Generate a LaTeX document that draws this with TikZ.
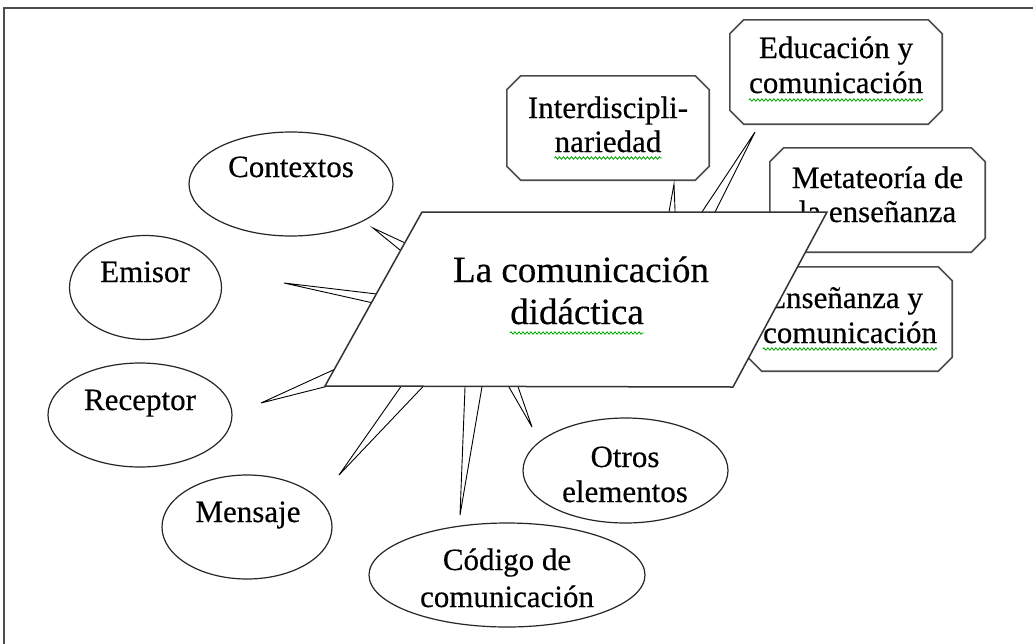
\documentclass[tikz,border=0pt]{standalone}
\usepackage{fontspec}
\setmainfont{Liberation Serif}[FakeBold=0.4]
\usetikzlibrary{shapes.geometric,decorations.pathmorphing}
\tikzset{
 ell/.style={ellipse, draw=black!85, line width=1.2pt, fill=white, inner sep=0pt},
 lab/.style={inner sep=0pt, anchor=base, font=\fontsize{31}{36}\selectfont},
 big/.style={inner sep=0pt, anchor=base, font=\fontsize{37}{42}\selectfont},
 boxarea/.style={inner sep=0pt, draw=none},
 boxline/.style={draw=black!70, line width=1.6pt, fill=white},
 spike/.style={draw=black, line width=0.9pt, fill=white, line join=miter},
 wavy/.style={draw=green!65!black, line width=0.8pt, decorate, decoration={zigzag, segment length=4pt, amplitude=1.2pt}},
 frameline/.style={draw=black!70, line width=1.5pt},
 para/.style={draw=black!80, line width=1.5pt, fill=white, line join=miter}
}
\newcommand\chambox[1]{%
 \filldraw[boxline] ([xshift=14pt]#1.north west) -- ([xshift=-14pt]#1.north east) -- ([yshift=-14pt]#1.north east) -- ([yshift=14pt]#1.south east) -- ([xshift=-14pt]#1.south east) -- ([xshift=14pt]#1.south west) -- ([yshift=14pt]#1.south west) -- ([yshift=-14pt]#1.north west) -- cycle;}
\begin{document}
\begin{tikzpicture}[x=1pt,y=-1pt]
\useasboundingbox (0,0) rectangle (1033,643);
\fill[white] (0,0) rectangle (1033,643);
% frame
\coordinate (fTL) at (4,8);
\coordinate (fBL) at (4,650);
\coordinate (fTR) at (1040,8);
\draw[frameline] (fBL) -- (fTL) -- (fTR);

% ellipses
\node[ell, minimum width=204pt, minimum height=104pt] (cont) at (291,184) {};
\node[lab] (tcont) at (291,177) {Contextos};
\node[ell, minimum width=152pt, minimum height=104pt] (emis) at (145.5,287.5) {};
\node[lab] (temis) at (145,282) {Emisor};
\node[ell, minimum width=184pt, minimum height=104pt] (rece) at (140,415) {};
\node[lab] (trece) at (140,410) {Receptor};
\node[ell, minimum width=170pt, minimum height=104pt] (mens) at (247,527) {};
\node[lab] (tmens) at (248,522) {Mensaje};
\node[ell, minimum width=276pt, minimum height=104pt] (codi) at (507,575) {};
\node[lab] (tcodi1) at (507,570) {Código de};
\node[lab] (tcodi2) at (507,607) {comunicación};
\node[ell, minimum width=205pt, minimum height=105pt] (otro) at (625.5,470.5) {};
\node[lab] (totro1) at (625,467) {Otros};
\node[lab] (totro2) at (625,502) {elementos};

% callout boxes
\node[boxarea, minimum width=202pt, minimum height=104pt] (interd) at (608,128) {};
\chambox{interd}
\node[lab] (tinterd1) at (608,118) {Interdiscipli-};
\node[lab] (tinterd2) at (608,152) {nariedad};
\draw[wavy] ([yshift=-6pt]tinterd2.base west) -- ([yshift=-6pt]tinterd2.base east);

\node[boxarea, minimum width=212pt, minimum height=104pt] (educ) at (836,72) {};
\chambox{educ}
\node[lab] (teduc1) at (836,58) {Educación y};
\node[lab] (teduc2) at (836,93) {comunicación};
\draw[wavy] ([yshift=-7pt]teduc2.base west) -- ([yshift=-7pt]teduc2.base east);

\node[boxarea, minimum width=215pt, minimum height=104pt] (meta) at (877.5,200) {};
\chambox{meta}
\node[lab] (tmeta1) at (877.5,188) {Metateoría de};
\node[lab] (tmeta2) at (877.5,222) {la enseñanza};

\node[boxarea, minimum width=204pt, minimum height=104pt] (ense) at (850,319) {};
\chambox{ense}
\node[lab] (tense1) at (845,308) {Enseñanza y};
\node[lab] (tense2) at (850,343) {comunicación};
\draw[wavy] ([yshift=-6pt]tense2.base west) -- ([yshift=-6pt]tense2.base east);

% spikes
\coordinate (sCont) at (373,228); \coordinate (sCont1) at (433,256); \coordinate (sCont2) at (427,272);
\draw[spike] (sCont) -- (sCont1) -- (sCont2) -- cycle;
\coordinate (sEmis) at (284,283); \coordinate (sEmis1) at (402,297); \coordinate (sEmis2) at (400,309);
\draw[spike] (sEmis) -- (sEmis1) -- (sEmis2) -- cycle;
\coordinate (sRece) at (261,403); \coordinate (sRece1) at (355,360); \coordinate (sRece2) at (344,382);
\draw[spike] (sRece) -- (sRece1) -- (sRece2) -- cycle;
\coordinate (sMens) at (339,475); \coordinate (sMens1) at (409,375); \coordinate (sMens2) at (434,375);
\draw[spike] (sMens) -- (sMens1) -- (sMens2) -- cycle;
\coordinate (sCodi) at (460,515); \coordinate (sCodi1) at (465.5,375); \coordinate (sCodi2) at (484,375);
\draw[spike] (sCodi) -- (sCodi1) -- (sCodi2) -- cycle;
\coordinate (sOtro) at (532,427); \coordinate (sOtro1) at (502,375); \coordinate (sOtro2) at (514,375);
\draw[spike] (sOtro) -- (sOtro1) -- (sOtro2) -- cycle;
\coordinate (sInt) at (674,184); \coordinate (sInt1) at (667,223); \coordinate (sInt2) at (675.5,223);
\draw[spike] (sInt) -- (sInt1) -- (sInt2) -- cycle;
\coordinate (sEdu) at (755,132); \coordinate (sEdu1) at (694,224); \coordinate (sEdu2) at (709,224);
\draw[spike] (sEdu) -- (sEdu1) -- (sEdu2) -- cycle;

% central parallelogram
\coordinate (pTL) at (422,212);
\coordinate (pTR) at (827,212);
\coordinate (pBR) at (733,387);
\coordinate (pBL) at (325,386);
\draw[para] (pTL) -- (pTR) -- (pBR) -- (pBL) -- cycle;
\node[big] (c1) at (581,282) {La comunicación};
\node[big] (c2) at (577,324) {didáctica};
\draw[wavy] ([yshift=-9pt]c2.base west) -- ([yshift=-9pt]c2.base east);
\end{tikzpicture}
\end{document}
